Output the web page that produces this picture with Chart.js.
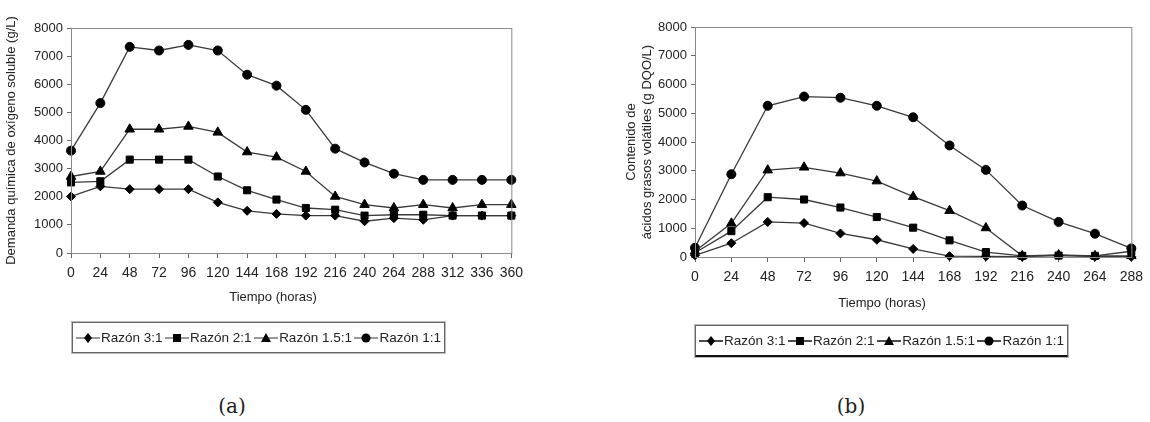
<!DOCTYPE html>
<html>
<head>
<meta charset="utf-8">
<script src="https://cdn.jsdelivr.net/npm/chart.js@4.4.1/dist/chart.umd.min.js"></script>
<style>
  body { margin: 0; width: 1150px; height: 422px; background: #fff; position: relative; overflow: hidden;
         font-family: "Liberation Sans", Arial, sans-serif; color: #222; }
  canvas { position: absolute; }
  .xtitle { position: absolute; font-size: 13px; transform: translateX(-50%); white-space: nowrap; }
  .legend { position: absolute; border: 1px solid #666; box-shadow: 0 0 0 1px #bbb; display: flex;
            align-items: center; justify-content: space-between; padding: 0 3px; box-sizing: border-box;
            font-size: 13.5px; }
  .legend .item { display: flex; align-items: center; white-space: nowrap; flex: none; }
  .legend svg { margin-right: 1px; flex: none; }
  .caption { position: absolute; font-family: "DejaVu Serif", "Liberation Serif", serif; font-size: 20px;
             transform: translateX(-50%); }
</style>
</head>
<body>
<canvas id="chartA" width="530" height="310" style="left:0;top:0"></canvas>
<canvas id="chartB" width="575" height="315" style="left:575px;top:0"></canvas>
<div class="xtitle" style="left:273px;top:289px">Tiempo (horas)</div>
<div class="xtitle" style="left:882px;top:295px">Tiempo (horas)</div>
<div class="legend" id="legendA" style="left:72px;top:322px;width:373px;height:31px"></div>
<div class="legend" id="legendB" style="left:695px;top:325px;width:373px;height:32px;border-bottom:2px solid #111"></div>
<div class="caption" style="left:232px;top:394px">(a)</div>
<div class="caption" style="left:851px;top:394px">(b)</div>

<script>
// series names and marker styles
const seriesNames = ['Razón 3:1', 'Razón 2:1', 'Razón 1.5:1', 'Razón 1:1'];
const markers = ['rectRot', 'rect', 'triangle', 'circle'];

// chart (a): soluble COD
const hoursA = ['0', '24', '48', '72', '96', '120', '144', '168', '192', '216', '240', '264', '288', '312', '336', '360'];
const codRazon31 = [2010, 2370, 2270, 2270, 2270, 1800, 1500, 1390, 1330, 1330, 1130, 1240, 1180, 1330, 1330, 1330];
const codRazon21 = [2510, 2550, 3320, 3320, 3320, 2720, 2230, 1900, 1600, 1540, 1330, 1360, 1360, 1330, 1330, 1330];
const codRazon151 = [2720, 2900, 4400, 4400, 4500, 4290, 3590, 3410, 2900, 2010, 1720, 1600, 1720, 1600, 1720, 1720];
const codRazon11 = [3640, 5330, 7330, 7200, 7400, 7200, 6340, 5950, 5090, 3710, 3220, 2820, 2600, 2600, 2600, 2600];

// chart (b): volatile fatty acids
const hoursB = ['0', '24', '48', '72', '96', '120', '144', '168', '192', '216', '240', '264', '288'];
const agvRazon31 = [60, 480, 1220, 1180, 820, 600, 280, 30, 20, 10, 60, 10, 10];
const agvRazon21 = [150, 900, 2080, 2000, 1720, 1390, 1020, 580, 170, 40, 50, 40, 200];
const agvRazon151 = [200, 1170, 3020, 3120, 2920, 2640, 2100, 1610, 1010, 40, 70, 40, 40];
const agvRazon11 = [320, 2880, 5260, 5580, 5540, 5260, 4860, 3880, 3030, 1790, 1220, 810, 300];

const yTicksMax = 8000;

const frameBorder = {
  id: 'frameBorder',
  afterDraw(chart) {
    const { ctx, chartArea } = chart;
    ctx.save();
    ctx.strokeStyle = '#8a8a8a';
    ctx.lineWidth = 1;
    ctx.strokeRect(chartArea.left + 0.5, chartArea.top + 0.5, chartArea.right - chartArea.left, chartArea.bottom - chartArea.top);
    ctx.restore();
  }
};

function makeDatasets(seriesList) {
  return seriesList.map((values, i) => ({
    label: seriesNames[i],
    data: values,
    borderColor: '#3a3a3a',
    borderWidth: 1.3,
    pointStyle: markers[i],
    pointRadius: markers[i] === 'rect' ? 5 : (markers[i] === 'triangle' ? 5.5 : 4.5),
    pointBackgroundColor: '#000',
    pointBorderColor: '#000',
    pointBorderWidth: 1,
    tension: 0,
    clip: false
  }));
}

function makeChart(canvasId, labels, seriesList, opts) {
  const ctx = document.getElementById(canvasId).getContext('2d');
  return new Chart(ctx, {
    type: 'line',
    data: { labels: labels, datasets: makeDatasets(seriesList) },
    options: {
      responsive: false,
      animation: false,
      layout: { padding: { top: opts.top, right: opts.right, left: 0, bottom: 0 } },
      plugins: { legend: { display: false }, tooltip: { enabled: false } },
      scales: {
        x: {
          type: 'category',
          offset: false,
          grid: { display: true, drawOnChartArea: false, drawTicks: true, tickLength: 5, color: '#666' },
          border: { color: '#8a8a8a' },
          ticks: { color: '#222', font: { family: '"Liberation Sans", Arial', size: 14 }, padding: 7, maxRotation: 0, autoSkip: false },
          afterFit(scale) { scale.height = opts.xHeight; }
        },
        y: {
          min: 0,
          max: yTicksMax,
          grid: { display: true, drawOnChartArea: false, drawTicks: true, tickLength: 4, color: '#666' },
          border: { color: '#8a8a8a' },
          ticks: {
            stepSize: 1000, color: '#222', font: { family: '"Liberation Sans", Arial', size: 13 }, padding: 4,
            callback: value => String(value)
          },
          title: {
            display: true,
            text: opts.yTitle,
            color: '#222',
            font: { family: '"Liberation Sans", Arial', size: 13 },
            padding: { top: opts.titlePad, bottom: 0 }
          },
          afterFit(scale) { scale.width = opts.yWidth; }
        }
      }
    },
    plugins: [frameBorder]
  });
}

makeChart('chartA', hoursA, [codRazon31, codRazon21, codRazon151, codRazon11], {
  top: 28, right: 16, xHeight: 57, yWidth: 71, titlePad: 4,
  yTitle: 'Demanda química de oxígeno soluble (g/L)'
});

makeChart('chartB', hoursB, [agvRazon31, agvRazon21, agvRazon151, agvRazon11], {
  top: 27, right: 13, xHeight: 58, yWidth: 120, titlePad: 49,
  yTitle: ['Contenido de', 'ácidos grasos volátiles (g DQO/L)']
});

// HTML legends
function markerSvg(style, lineColor) {
  let shape = '';
  if (style === 'rectRot') shape = '<polygon points="12,3 16,8 12,13 8,8" fill="#000"/>';
  if (style === 'rect') shape = '<rect x="8" y="4" width="8" height="8" fill="#000"/>';
  if (style === 'triangle') shape = '<polygon points="12,3 17,12 7,12" fill="#000"/>';
  if (style === 'circle') shape = '<circle cx="12" cy="8" r="4.5" fill="#000"/>';
  return '<svg width="24" height="16"><line x1="0" y1="8" x2="24" y2="8" stroke="' + lineColor + '" stroke-width="1.5"/>' + shape + '</svg>';
}

function buildLegend(id, lineColor) {
  const el = document.getElementById(id);
  el.innerHTML = seriesNames.map((name, i) =>
    '<span class="item">' + markerSvg(markers[i], lineColor) + name + '</span>').join('');
}
buildLegend('legendA', '#777');
buildLegend('legendB', '#111');
</script>
</body>
</html>
